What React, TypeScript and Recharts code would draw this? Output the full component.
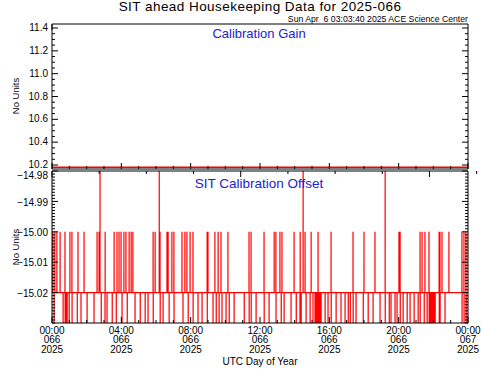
import { LineChart, Line, XAxis, YAxis } from 'recharts'

const FONT = '"Liberation Sans", Arial, Helvetica, sans-serif'
const RED = '#ff0000'
const BLUE = '#2222cc'
const MAJOR_LEN = 6
const MINOR_LEN = 3

// time axis (minutes of the day)
const hourTicks = Array.from({ length: 25 }, (_, i) => i * 60)
const majorTimeTicks = [0, 240, 480, 720, 960, 1200, 1440]
const timeLabels = ['00:00', '04:00', '08:00', '12:00', '16:00', '20:00', '00:00']
const dayLabels = ['066', '066', '066', '066', '066', '066', '067']
const yearLabels = ['2025', '2025', '2025', '2025', '2025', '2025', '2025']

// calibration gain panel
const gainMajorTicks = [10.2, 10.4, 10.6, 10.8, 11.0, 11.2, 11.4]
const gainTickLabels = ['10.2', '10.4', '10.6', '10.8', '11.0', '11.2', '11.4']
const gainMinorTicks = Array.from({ length: 25 }, (_, i) => +(10.2 + i * 0.05).toFixed(2))
const gainTimes = [0, 1440]
const gainValues = [10.18, 10.18]

// calibration offset panel
const offsetMajorTicks = [-15.02, -15.01, -15.0, -14.99, -14.98]
const offsetTickLabels = ['\u221215.02', '\u221215.01', '\u221215.00', '\u221214.99', '\u221214.98']
const offsetMinorTicks = Array.from({ length: 51 }, (_, i) => +(-15.03 + i * 0.001).toFixed(3))

const offsetBase = -15.02
const offsetHigh = -15.0
const offsetLow = -15.03
const offsetPeak = -14.98
// minutes of day where the reading jumps away from the -15.02 baseline
const highMinutes = [
  3, 10, 17, 28, 45, 62, 69, 90, 111, 156, 163, 184, 215, 225, 232, 239, 249, 256, 267, 274, 280,
  350, 357, 374, 398, 402, 415, 422, 450, 460, 467, 478, 488, 537, 540, 564, 575, 585, 609, 682,
  689, 734, 769, 775, 789, 796, 838, 859, 876, 897, 921, 966, 1042, 1080, 1118, 1201, 1205, 1274,
  1281, 1291, 1305, 1340, 1343, 1350, 1374, 1419, 1426, 1433,
]
const lowMinutes = [
  7, 38, 45, 48, 52, 59, 69, 87, 100, 121, 145, 170, 183, 190, 208, 222, 242, 260, 287, 305, 322,
  332, 350, 374, 384, 405, 422, 453, 471, 488, 505, 519, 537, 557, 568, 578, 588, 602, 613, 630,
  665, 682, 689, 706, 734, 751, 775, 793, 803, 827, 845, 858, 862, 879, 893, 903, 910, 914, 917,
  921, 924, 928, 931, 945, 955, 966, 983, 1000, 1014, 1025, 1032, 1042, 1052, 1077, 1094, 1111,
  1135, 1153, 1167, 1173, 1187, 1194, 1205, 1215, 1229, 1239, 1253, 1267, 1274, 1288, 1298, 1305,
  1308, 1312, 1315, 1319, 1322, 1326, 1340, 1343, 1360, 1419, 1426, 1433,
]
const peakMinutes = [166, 371, 869, 1153]

const gainRows = gainTimes.map((t, i) => ({ t, v: gainValues[i] }))

function buildOffsetRows() {
  const events = [
    ...highMinutes.map((t) => ({ t, v: offsetHigh })),
    ...lowMinutes.map((t) => ({ t: t + 0.5, v: offsetLow })),
    ...peakMinutes.map((t) => ({ t: t + 0.25, v: offsetPeak })),
  ].sort((a, b) => a.t - b.t)
  const rows = [{ t: 0, v: offsetBase }]
  for (const e of events) {
    rows.push({ t: e.t - 0.08, v: offsetBase }, { t: e.t, v: e.v }, { t: e.t + 0.08, v: offsetBase })
  }
  rows.push({ t: 1440, v: offsetBase })
  return rows
}
const offsetRows = buildOffsetRows()

type Side = 'left' | 'right' | 'top' | 'bottom'

function makeTick(
  side: Side,
  majors: number[],
  labels?: string[],
  timeLabelsOn?: boolean,
  labelDy = 0,
  topValue?: number,
) {
  return (props: any) => {
    const { x, y, payload } = props
    const v = payload.value
    const idx = majors.findIndex((m) => Math.abs(m - v) < 1e-6)
    const len = idx >= 0 ? MAJOR_LEN : MINOR_LEN
    let x2 = x
    let y2 = y
    if (side === 'left') x2 = x + len
    if (side === 'right') x2 = x - len
    if (side === 'top') y2 = y + len
    if (side === 'bottom') y2 = y - len
    // label sitting on the top edge of the box is pushed down a little
    const nudge = topValue !== undefined && Math.abs(v - topValue) < 1e-6 ? 4 : 0
    return (
      <g>
        <line x1={x} y1={y} x2={x2} y2={y2} stroke="#000" strokeWidth={1} />
        {labels && idx >= 0 && (
          <text x={x - 4} y={y + nudge + labelDy} dy="0.36em" textAnchor="end" fontSize={10} fontFamily={FONT} fill="#000">
            {labels[idx]}
          </text>
        )}
        {timeLabelsOn && idx >= 0 && (
          <text x={x} y={y} textAnchor="middle" fontSize={10} fontFamily={FONT} fill="#000">
            <tspan x={x} dy={10.5}>{timeLabels[idx]}</tspan>
            <tspan x={x} dy={9.5}>{dayLabels[idx]}</tspan>
            <tspan x={x} dy={9.5}>{yearLabels[idx]}</tspan>
          </text>
        )}
      </g>
    )
  }
}

const axisLine = { stroke: '#000', strokeWidth: 1 }

function Panel({
  rows,
  domain,
  majors,
  minors,
  labels,
  margin,
  topHeight,
  bottomHeight,
  timeLabelsOn,
  strokeWidth,
  labelDy,
  nudgeTop,
}: any) {
  return (
    <div style={{ position: 'absolute', left: 0, top: 0 }}>
      <LineChart width={481} height={370} data={rows} margin={margin}>
        <XAxis
          dataKey="t"
          type="number"
          domain={[0, 1440]}
          allowDataOverflow
          ticks={hourTicks}
          interval={0}
          orientation="bottom"
          height={bottomHeight}
          tickSize={0}
          tickMargin={0}
          tickLine={false}
          axisLine={axisLine}
          tick={makeTick('bottom', majorTimeTicks, undefined, timeLabelsOn)}
        />
        <XAxis
          xAxisId="top"
          type="number"
          domain={[0, 1440]}
          allowDataOverflow
          ticks={hourTicks}
          interval={0}
          orientation="top"
          height={topHeight}
          tickSize={0}
          tickMargin={0}
          tickLine={false}
          axisLine={axisLine}
          tick={makeTick('top', majorTimeTicks)}
        />
        <YAxis
          type="number"
          domain={domain}
          allowDataOverflow
          ticks={minors}
          interval={0}
          orientation="left"
          width={50}
          tickSize={0}
          tickMargin={0}
          tickLine={false}
          axisLine={axisLine}
          tick={makeTick('left', majors, labels, false, labelDy, nudgeTop ? domain[1] : undefined)}
        />
        <YAxis
          yAxisId="right"
          type="number"
          domain={domain}
          allowDataOverflow
          ticks={minors}
          interval={0}
          orientation="right"
          width={13}
          tickSize={0}
          tickMargin={0}
          tickLine={false}
          axisLine={axisLine}
          tick={makeTick('right', majors)}
        />
        <Line
          dataKey="v"
          type="linear"
          stroke={RED}
          strokeWidth={strokeWidth}
          dot={false}
          activeDot={false}
          isAnimationActive={false}
        />
      </LineChart>
    </div>
  )
}

export default function App() {
  return (
    <div
      style={{
        position: 'absolute',
        left: 0,
        top: 0,
        width: 481,
        height: 370,
        background: '#fff',
        fontFamily: FONT,
      }}
    >
      <Panel
        rows={gainRows}
        domain={[10.165, 11.435]}
        majors={gainMajorTicks}
        minors={gainMinorTicks}
        labels={gainTickLabels}
        margin={{ top: 0, right: 0, bottom: 200, left: 2 }}
        topHeight={24}
        bottomHeight={1}
        strokeWidth={1.5}
        labelDy={-0.5}
      />
      <Panel
        rows={offsetRows}
        domain={[-15.03, -14.98]}
        majors={offsetMajorTicks}
        minors={offsetMinorTicks}
        labels={offsetTickLabels}
        margin={{ top: 170, right: 0, bottom: 7, left: 2 }}
        topHeight={1}
        bottomHeight={40}
        timeLabelsOn
        strokeWidth={1.2}
        labelDy={0.5}
        nudgeTop
      />
      <svg
        width={481}
        height={370}
        style={{ position: 'absolute', left: 0, top: 0, pointerEvents: 'none' }}
        fontFamily={FONT}
      >
        <text x={260} y={11} textAnchor="middle" fontSize={13.5} letterSpacing={0.45} fill="#000">
          SIT ahead Housekeeping Data for 2025-066
        </text>
        <text x={468} y={22} textAnchor="end" fontSize={8.7} fill="#000" style={{ whiteSpace: 'pre' }}>
          {'Sun Apr  6 03:03:40 2025 ACE Science Center'}
        </text>
        <text x={259} y={38} textAnchor="middle" fontSize={13} fill={BLUE}>
          Calibration Gain
        </text>
        <text x={259} y={188} textAnchor="middle" fontSize={13.5} fill={BLUE}>
          SIT Calibration Offset
        </text>
        <text x={19} y={96} textAnchor="middle" fontSize={9.5} fill="#000" transform="rotate(-90 19 96)">
          No Units
        </text>
        <text x={19} y={247} textAnchor="middle" fontSize={9.5} fill="#000" transform="rotate(-90 19 247)">
          No Units
        </text>
        <text x={260} y={365} textAnchor="middle" fontSize={10} fill="#000">
          UTC Day of Year
        </text>
      </svg>
    </div>
  )
}
